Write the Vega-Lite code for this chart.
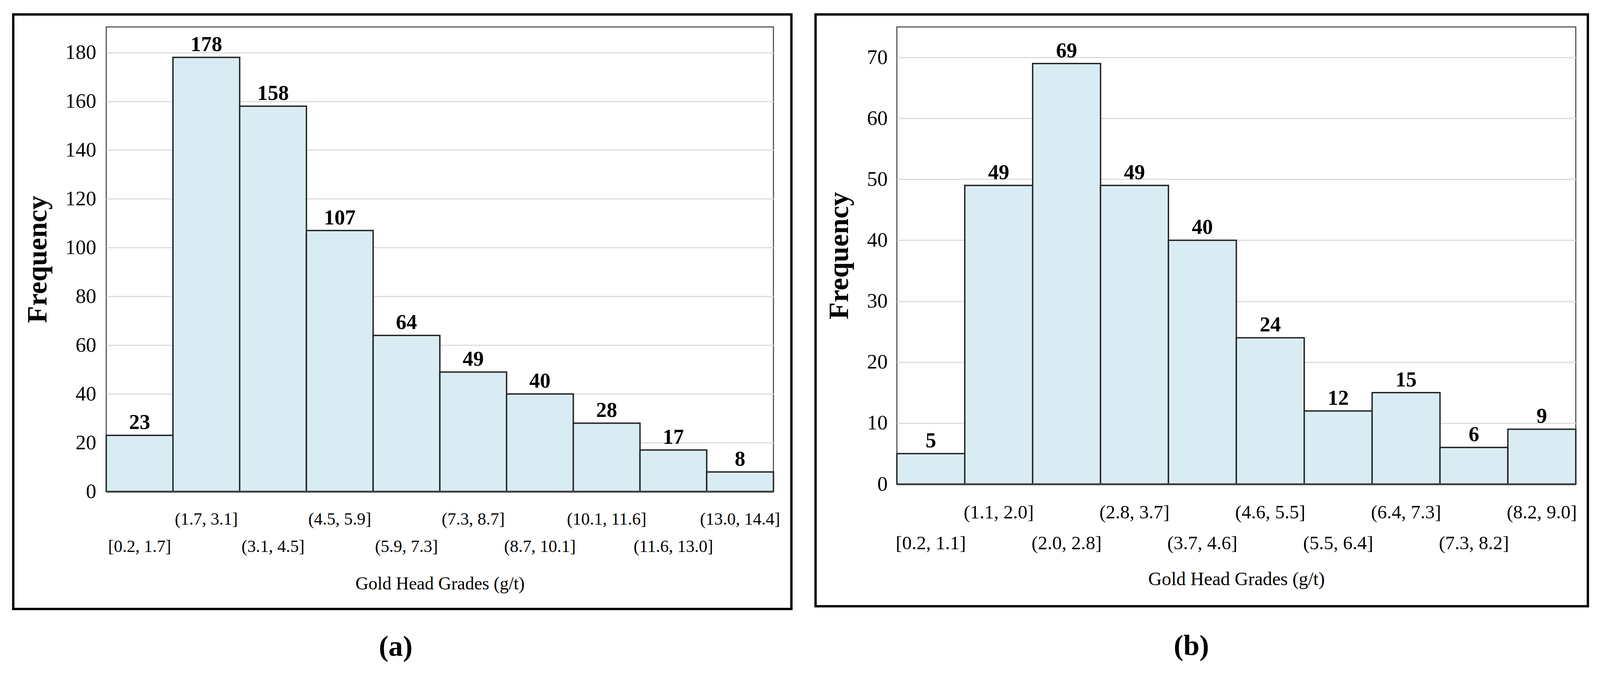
{
  "$schema": "https://vega.github.io/schema/vega-lite/v6.json",
  "background": "white",
  "padding": {"left": 29, "top": 32, "right": 0, "bottom": 0},
  "spacing": 52,
  "config": {
    "font": "Liberation Serif",
    "view": {"stroke": "#3a3a3a", "strokeWidth": 2.5}
  },
  "datasets": {
    "a": [
      {"bin": "[0.2, 1.7]", "count": 23},
      {"bin": "(1.7, 3.1]", "count": 178},
      {"bin": "(3.1, 4.5]", "count": 158},
      {"bin": "(4.5, 5.9]", "count": 107},
      {"bin": "(5.9, 7.3]", "count": 64},
      {"bin": "(7.3, 8.7]", "count": 49},
      {"bin": "(8.7, 10.1]", "count": 40},
      {"bin": "(10.1, 11.6]", "count": 28},
      {"bin": "(11.6, 13.0]", "count": 17},
      {"bin": "(13.0, 14.4]", "count": 8}
    ],
    "b": [
      {"bin": "[0.2, 1.1]", "count": 5},
      {"bin": "(1.1, 2.0]", "count": 49},
      {"bin": "(2.0, 2.8]", "count": 69},
      {"bin": "(2.8, 3.7]", "count": 49},
      {"bin": "(3.7, 4.6]", "count": 40},
      {"bin": "(4.6, 5.5]", "count": 24},
      {"bin": "(5.5, 6.4]", "count": 12},
      {"bin": "(6.4, 7.3]", "count": 15},
      {"bin": "(7.3, 8.2]", "count": 6},
      {"bin": "(8.2, 9.0]", "count": 9}
    ]
  },
  "hconcat": [
    {
      "width": 1708,
      "height": 1190,
      "title": {"text": "(a)", "orient": "bottom", "frame": "group", "anchor": "middle", "offset": 95, "baseline": "middle", "dx": -113, "fontSize": 74, "fontWeight": "bold", "color": "black"},
      "layer": [
        {
          "data": {"name": "a"},
          "encoding": {
            "x": {
              "field": "bin", "type": "nominal", "sort": null,
              "scale": {"paddingInner": 0, "paddingOuter": 0},
              "axis": {
                "title": "Gold Head Grades (g/t)", "titleFontSize": 46, "titleFontWeight": "normal", "titlePadding": 51, "titleColor": "black",
                "labelAngle": 0, "labelFontSize": 44, "labelColor": "black", "labelPadding": 49, "labelLineHeight": 184,
                "labelBaseline": {"condition": {"test": "round(datum.index * 9) % 2 == 1", "value": "top"}, "value": "line-top"},
                "labelOverlap": false, "labelLimit": 600, "ticks": false,
                "domainColor": "#444444", "domainWidth": 5, "grid": false, "zindex": 1
              }
            },
            "y": {
              "field": "count", "type": "quantitative",
              "scale": {"domain": [0, 190.5], "nice": false},
              "axis": {
                "title": "Frequency", "titleFontSize": 72, "titleFontWeight": "bold", "titlePadding": 33, "titleColor": "black",
                "labelFontSize": 53, "labelColor": "black", "labelPadding": 26, "ticks": false, "domain": false,
                "grid": true, "gridColor": "#dcdcdc", "gridWidth": 3, "tickCount": 10
              }
            }
          },
          "layer": [
            {"mark": {"type": "bar", "fill": "#daecf3", "stroke": "#222222", "strokeWidth": 3.5}},
            {"mark": {"type": "text", "baseline": "alphabetic", "dy": -16, "fontSize": 54, "fontWeight": "bold", "color": "black"},
             "encoding": {"text": {"field": "count", "type": "quantitative"}}}
          ]
        },
        {
          "data": {"values": [{}]},
          "mark": {"type": "rect", "filled": false, "color": "black", "strokeWidth": 6, "clip": false},
          "encoding": {
            "x": {"datum": -0.1394, "type": "quantitative", "scale": {"domain": [0, 1], "nice": false, "zero": false}, "axis": null},
            "x2": {"datum": 1.0269},
            "y": {"datum": -0.2529, "type": "quantitative", "scale": {"domain": [0, 1], "nice": false, "zero": false}, "axis": null},
            "y2": {"datum": 1.0269}
          }
        }
      ],
      "resolve": {"scale": {"x": "independent", "y": "independent"}, "axis": {"x": "independent", "y": "independent"}}
    },
    {
      "width": 1738,
      "height": 1171,
      "title": {"text": "(b)", "orient": "bottom", "frame": "group", "anchor": "middle", "offset": 100, "baseline": "middle", "dx": -115, "fontSize": 74, "fontWeight": "bold", "color": "black"},
      "layer": [
        {
          "data": {"name": "b"},
          "encoding": {
            "x": {
              "field": "bin", "type": "nominal", "sort": null,
              "scale": {"paddingInner": 0, "paddingOuter": 0},
              "axis": {
                "title": "Gold Head Grades (g/t)", "titleFontSize": 48, "titleFontWeight": "normal", "titlePadding": 44, "titleColor": "black",
                "labelAngle": 0, "labelFontSize": 49, "labelColor": "black", "labelPadding": 48, "labelLineHeight": 207,
                "labelBaseline": {"condition": {"test": "round(datum.index * 9) % 2 == 1", "value": "top"}, "value": "line-top"},
                "labelOverlap": false, "labelLimit": 600, "ticks": false,
                "domainColor": "#444444", "domainWidth": 5, "grid": false, "zindex": 1
              }
            },
            "y": {
              "field": "count", "type": "quantitative",
              "scale": {"domain": [0, 75], "nice": false},
              "axis": {
                "title": "Frequency", "titleFontSize": 72, "titleFontWeight": "bold", "titlePadding": 34, "titleColor": "black",
                "labelFontSize": 53, "labelColor": "black", "labelPadding": 24, "ticks": false, "domain": false,
                "grid": true, "gridColor": "#dcdcdc", "gridWidth": 3, "tickCount": 8
              }
            }
          },
          "layer": [
            {"mark": {"type": "bar", "fill": "#daecf3", "stroke": "#222222", "strokeWidth": 3.5}},
            {"mark": {"type": "text", "baseline": "alphabetic", "dy": -16, "fontSize": 54, "fontWeight": "bold", "color": "black"},
             "encoding": {"text": {"field": "count", "type": "quantitative"}}}
          ]
        },
        {
          "data": {"values": [{}]},
          "mark": {"type": "rect", "filled": false, "color": "black", "strokeWidth": 6, "clip": false},
          "encoding": {
            "x": {"datum": -0.1198, "type": "quantitative", "scale": {"domain": [0, 1], "nice": false, "zero": false}, "axis": null},
            "x2": {"datum": 1.0178},
            "y": {"datum": -0.2673, "type": "quantitative", "scale": {"domain": [0, 1], "nice": false, "zero": false}, "axis": null},
            "y2": {"datum": 1.0273}
          }
        }
      ],
      "resolve": {"scale": {"x": "independent", "y": "independent"}, "axis": {"x": "independent", "y": "independent"}}
    }
  ]
}
